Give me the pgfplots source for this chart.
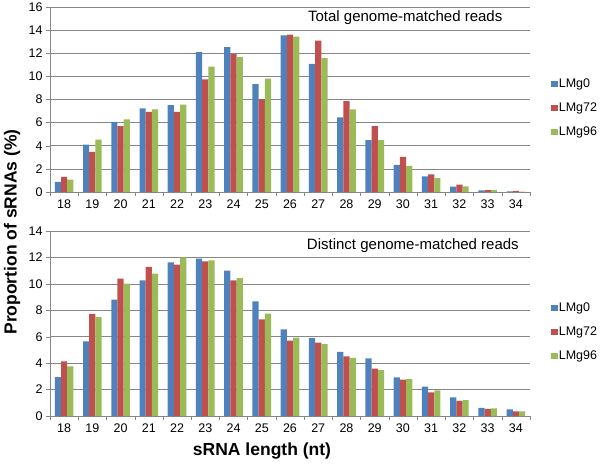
\documentclass[border=0pt]{standalone}
\usepackage{pgfplots}
\usepackage{pgfplotstable}
\pgfplotsset{compat=1.18}
\usepackage{fontspec}
\setmainfont{Liberation Sans}
\definecolor{c0}{RGB}{79,129,189}
\definecolor{c1}{RGB}{192,80,77}
\definecolor{c2}{RGB}{155,187,89}
\definecolor{gridc}{RGB}{134,134,134}

\pgfplotstableread{
len a b c
18 0.87 1.30 1.07
19 4.10 3.47 4.54
20 6.05 5.70 6.28
21 7.23 6.92 7.15
22 7.52 6.92 7.55
23 12.10 9.75 10.85
24 12.53 11.92 11.66
25 9.32 8.04 9.81
26 13.54 13.60 13.43
27 11.08 13.10 11.57
28 6.45 7.87 7.15
29 4.48 5.70 4.48
30 2.34 3.04 2.26
31 1.36 1.53 1.19
32 0.46 0.64 0.49
33 0.14 0.17 0.17
34 0.06 0.09 0.03
}\totaltab

\pgfplotstableread{
len a b c
18 2.95 4.14 3.76
19 5.65 7.72 7.49
20 8.80 10.39 10.02
21 10.27 11.28 10.77
22 11.63 11.45 12.00
23 11.91 11.71 11.78
24 11.00 10.27 10.44
25 8.68 7.32 7.74
26 6.56 5.70 5.93
27 5.90 5.55 5.43
28 4.85 4.52 4.39
29 4.37 3.59 3.48
30 2.93 2.75 2.80
31 2.22 1.79 1.94
32 1.41 1.14 1.21
33 0.61 0.53 0.58
34 0.50 0.35 0.35
}\distincttab

\pgfplotsset{
  mystyle/.style={
    scale only axis,
    width=480pt, height=185pt,
    anchor=south west,
    ybar,
    bar width=0.22,
    xmin=17.5, xmax=34.5,
    ymin=0,
    xtick={18,...,34},
    minor xtick={17.5,18.5,...,34.5},
    major x tick style={draw=none},
    minor tick length=4pt,
    tick align=outside,
    major tick length=4pt,
    axis x line*=bottom,
    axis y line*=left,
    axis line style={draw=gridc, -},
    every tick/.style={draw=gridc},
    minor x tick style={draw=gridc},
    ymajorgrids,
    major grid style={draw=gridc, line width=0.5pt},
    /pgf/number format/assume math mode=true,
    tick label style={font=\fontsize{12.5}{14}\selectfont},
    legend style={draw=none, fill=none, inner sep=0pt, anchor=west,
      at={(axis description cs:1.044,0.454)},
      font=\fontsize{12.5}{14}\selectfont,
      nodes={inner sep=1pt, text height=9pt, text depth=2.5pt},
      row sep=10.5pt},
    legend cell align=left,
    clip=false,
  }
}

\begin{document}
\begin{tikzpicture}[x=1pt,y=1pt]
\useasboundingbox (0,0) rectangle (600,464);

\begin{axis}[mystyle, at={(50pt,272pt)}, ymax=16, ytick={0,2,...,16}]
\addplot[fill=c0, draw=none, bar shift=-0.22, legend image code/.code={\fill[c0] (0pt,-3pt) rectangle (6.5pt,3.5pt);}] table[x=len,y=a]{\totaltab};
\addplot[fill=c1, draw=none, bar shift=0, legend image code/.code={\fill[c1] (0pt,-3pt) rectangle (6.5pt,3.5pt);}] table[x=len,y=b]{\totaltab};
\addplot[fill=c2, draw=none, bar shift=0.22, legend image code/.code={\fill[c2] (0pt,-3pt) rectangle (6.5pt,3.5pt);}] table[x=len,y=c]{\totaltab};
\legend{LMg0,LMg72,LMg96}
\node[font=\fontsize{15}{17}\selectfont] at (axis description cs:0.74,0.944) {Total genome-matched reads};
\end{axis}

\begin{axis}[mystyle, at={(50pt,48pt)}, ymax=14, ytick={0,2,...,14}]
\addplot[fill=c0, draw=none, bar shift=-0.22, legend image code/.code={\fill[c0] (0pt,-3pt) rectangle (6.5pt,3.5pt);}] table[x=len,y=a]{\distincttab};
\addplot[fill=c1, draw=none, bar shift=0, legend image code/.code={\fill[c1] (0pt,-3pt) rectangle (6.5pt,3.5pt);}] table[x=len,y=b]{\distincttab};
\addplot[fill=c2, draw=none, bar shift=0.22, legend image code/.code={\fill[c2] (0pt,-3pt) rectangle (6.5pt,3.5pt);}] table[x=len,y=c]{\distincttab};
\legend{LMg0,LMg72,LMg96}
\node[font=\fontsize{15}{17}\selectfont] at (axis description cs:0.756,0.919) {Distinct genome-matched reads};
\end{axis}

\node[rotate=90, font=\fontsize{17.5}{20}\bfseries] at (12,232) {Proportion of sRNAs (\%)};
\node[font=\fontsize{17.5}{20}\bfseries] at (262,13) {sRNA length (nt)};
\end{tikzpicture}
\end{document}
